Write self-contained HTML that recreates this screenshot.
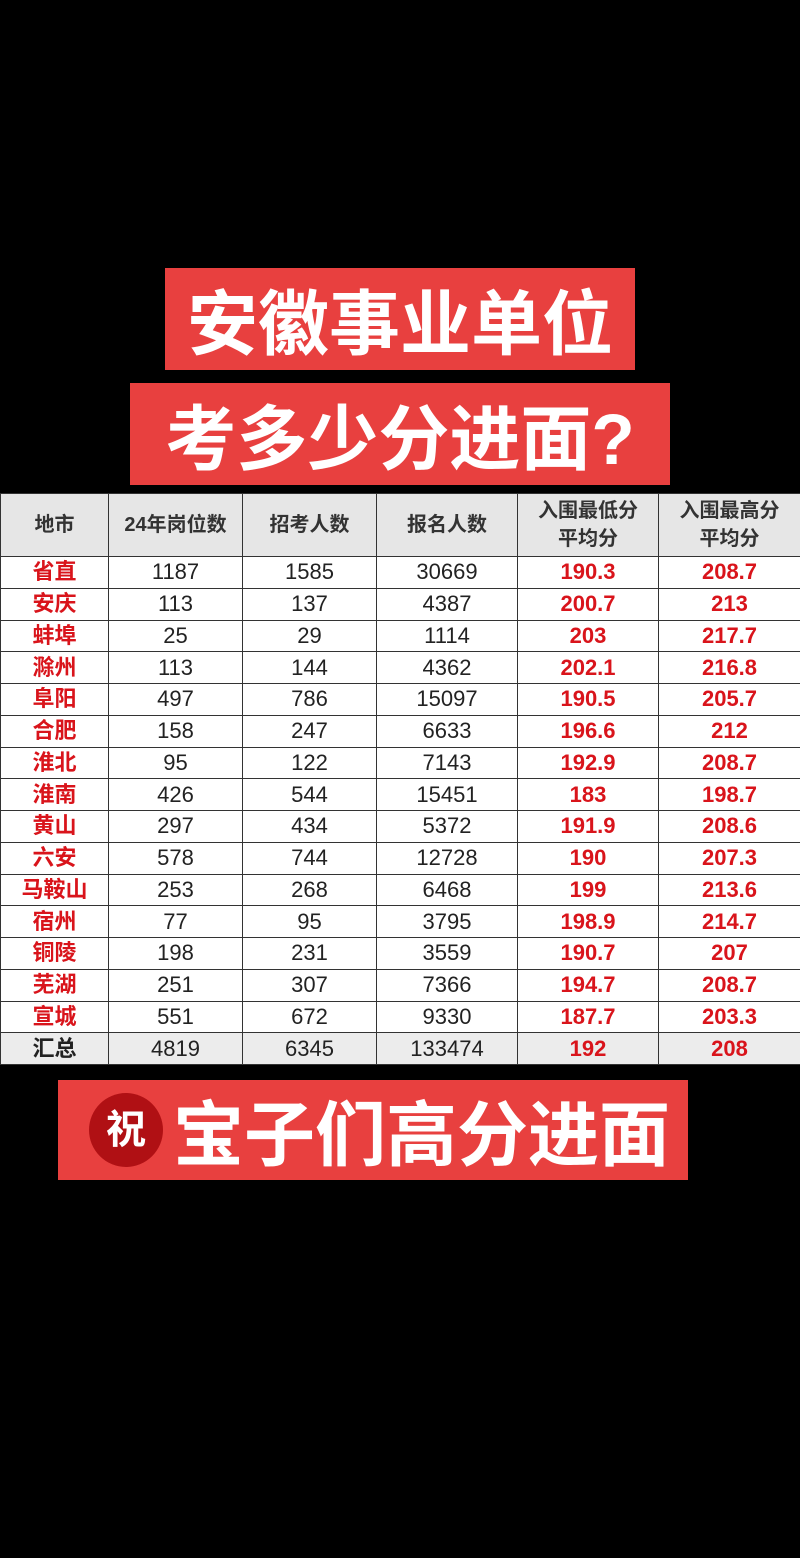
<!DOCTYPE html>
<html><head><meta charset="utf-8"><style>
body{margin:0;width:800px;height:1558px;background:#000;position:relative;overflow:hidden;font-family:"Liberation Sans","Noto Sans CJK SC",sans-serif}
.b{position:absolute;background:#e8403f;color:#fff;font-weight:bold;display:flex;align-items:center;justify-content:center;white-space:nowrap}
table{position:absolute;left:0;top:493px;width:800px;border-collapse:collapse;background:#fff;table-layout:fixed}
td{border:1.5px solid #333;text-align:center;font-size:22px;color:#222;height:30.75px;padding:0;line-height:30px}
tr.h td{height:62px;background:#e6e6e6;font-weight:bold;font-size:20px;line-height:28px;color:#333}
td.c{color:#d9141b;font-weight:bold}
td.r{color:#d9141b;font-weight:bold}
tr.t td{background:#ececec}
</style></head><body>
<div class="b" style="left:165px;top:268px;width:470px;height:102px;font-size:71px">安徽事业单位</div>
<div class="b" style="left:130px;top:383px;width:540px;height:102px;font-size:71px">考多少分进面?</div>
<table>
<colgroup><col style="width:108px"><col style="width:134px"><col style="width:134px"><col style="width:141px"><col style="width:141px"><col style="width:142px"></colgroup>
<tr class="h"><td>地市</td><td>24年岗位数</td><td>招考人数</td><td>报名人数</td><td>入围最低分<br>平均分</td><td>入围最高分<br>平均分</td></tr>
<tr><td class="c">省直</td><td>1187</td><td>1585</td><td>30669</td><td class="r">190.3</td><td class="r">208.7</td></tr>
<tr><td class="c">安庆</td><td>113</td><td>137</td><td>4387</td><td class="r">200.7</td><td class="r">213</td></tr>
<tr><td class="c">蚌埠</td><td>25</td><td>29</td><td>1114</td><td class="r">203</td><td class="r">217.7</td></tr>
<tr><td class="c">滁州</td><td>113</td><td>144</td><td>4362</td><td class="r">202.1</td><td class="r">216.8</td></tr>
<tr><td class="c">阜阳</td><td>497</td><td>786</td><td>15097</td><td class="r">190.5</td><td class="r">205.7</td></tr>
<tr><td class="c">合肥</td><td>158</td><td>247</td><td>6633</td><td class="r">196.6</td><td class="r">212</td></tr>
<tr><td class="c">淮北</td><td>95</td><td>122</td><td>7143</td><td class="r">192.9</td><td class="r">208.7</td></tr>
<tr><td class="c">淮南</td><td>426</td><td>544</td><td>15451</td><td class="r">183</td><td class="r">198.7</td></tr>
<tr><td class="c">黄山</td><td>297</td><td>434</td><td>5372</td><td class="r">191.9</td><td class="r">208.6</td></tr>
<tr><td class="c">六安</td><td>578</td><td>744</td><td>12728</td><td class="r">190</td><td class="r">207.3</td></tr>
<tr><td class="c">马鞍山</td><td>253</td><td>268</td><td>6468</td><td class="r">199</td><td class="r">213.6</td></tr>
<tr><td class="c">宿州</td><td>77</td><td>95</td><td>3795</td><td class="r">198.9</td><td class="r">214.7</td></tr>
<tr><td class="c">铜陵</td><td>198</td><td>231</td><td>3559</td><td class="r">190.7</td><td class="r">207</td></tr>
<tr><td class="c">芜湖</td><td>251</td><td>307</td><td>7366</td><td class="r">194.7</td><td class="r">208.7</td></tr>
<tr><td class="c">宣城</td><td>551</td><td>672</td><td>9330</td><td class="r">187.7</td><td class="r">203.3</td></tr>
<tr class="t"><td style="font-weight:bold">汇总</td><td>4819</td><td>6345</td><td>133474</td><td class="r">192</td><td class="r">208</td></tr>
</table>
<div class="b" style="left:58px;top:1080px;width:630px;height:100px;font-size:71px;justify-content:flex-start"><span style="display:inline-block;width:74px;height:74px;border-radius:50%;background:#b01014;font-size:40px;line-height:74px;text-align:center;margin-left:31px;margin-right:10px">祝</span>宝子们高分进面</div>
</body></html>
